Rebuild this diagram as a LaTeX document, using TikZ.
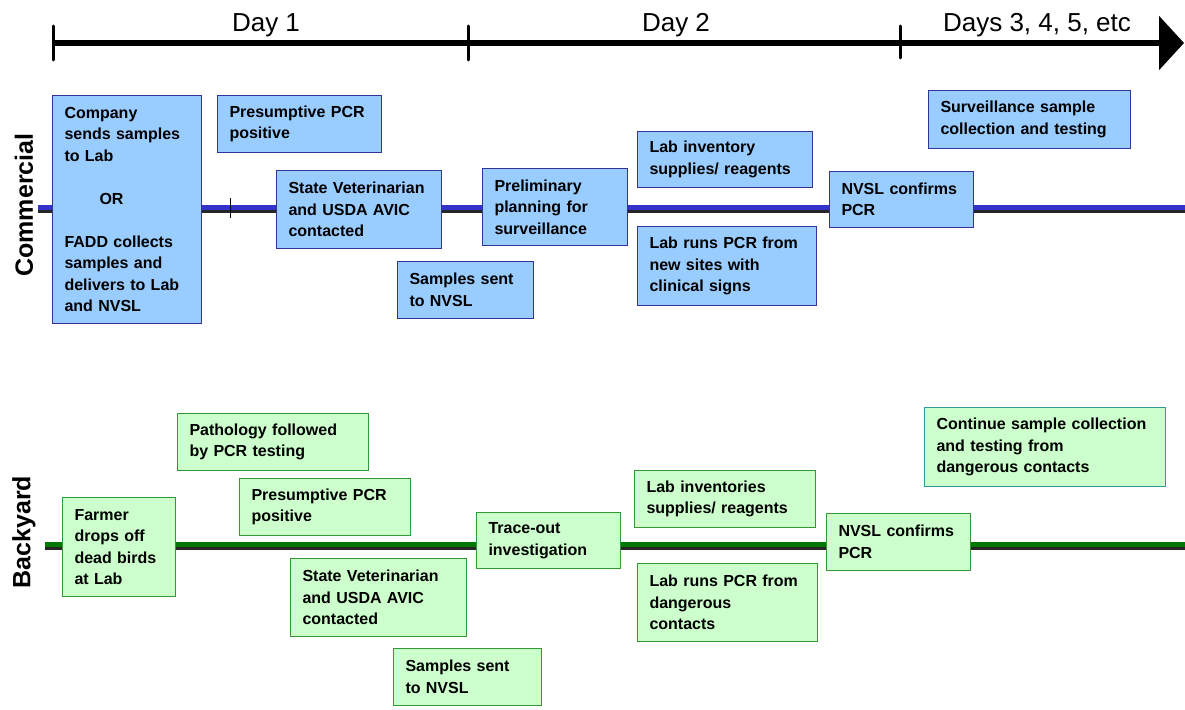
\documentclass[tikz,border=0pt]{standalone}
\usepackage{fontspec}
\setmainfont{Liberation Sans}
\usepackage{xcolor}
\usetikzlibrary{arrows.meta}

\definecolor{comfill}{HTML}{99CCFF}
\definecolor{comdraw}{HTML}{333399}
\definecolor{comlane}{HTML}{3333CC}
\definecolor{yardfill}{HTML}{CCFFCC}
\definecolor{yarddraw}{HTML}{339933}
\definecolor{yardteal}{HTML}{339999}
\definecolor{yardlane}{HTML}{007700}

\begin{document}
\begin{tikzpicture}[
    x=1pt, y=-1pt,
    box/.style={rectangle, draw, line width=1pt, anchor=north west, align=left,
        inner xsep=12pt, inner ysep=0pt, font=\bfseries\fontsize{16}{21.5}\selectfont},
    combox/.style={box, fill=comfill, draw=comdraw},
    yardbox/.style={box, fill=yardfill, draw=yarddraw},
    daylabel/.style={anchor=base, font=\fontsize{26}{30}\selectfont},
    lanelabel/.style={rotate=90, font=\bfseries\fontsize{25}{30}\selectfont},
    % Line styles
    timeline/.style={line width=6pt, -{Triangle[length=25pt, width=53pt]}},
    daytick/.style={line width=3pt, line cap=round},
    laneshadow/.style={line width=7pt, black!85},
    lane/.style={line width=5.5pt, #1},
    ]

    \useasboundingbox (0,0) rectangle (1185,709);

    % Time axis
    \coordinate (t0) at (53,43);
    \coordinate (t1) at (468,43);
    \coordinate (t2) at (900,43);
    \coordinate (tend) at (1184,43);
    \draw[timeline] (t0) -- (tend);
    \draw[daytick] ([yshift=17pt]t0) -- ([yshift=-17pt]t0);
    \draw[daytick] ([yshift=17pt]t1) -- ([yshift=-17pt]t1);
    \draw[daytick] ([yshift=17pt]t2) -- ([yshift=-15pt]t2);
    \node[daylabel] (day1) at (266,32) {Day 1};
    \node[daylabel] (day2) at (676,32) {Day 2};
    \node[daylabel] (day3) at (1037,32) {Days 3, 4, 5, etc};

    % Commercial lane
    \coordinate (cstart) at (38,208);
    \coordinate (cend) at (1185,208);
    \draw[laneshadow] ([yshift=-1pt]cstart) -- ([yshift=-1pt]cend);
    \draw[lane=comlane] ([yshift=0.3pt]cstart) -- ([yshift=0.3pt]cend);
    \coordinate (cmark) at (230,208);
    \draw[thin] ([yshift=10pt]cmark) -- ([yshift=-10pt]cmark);
    \node[lanelabel] (commercial) at (24,205) {Commercial};

    \node[combox, text width=125pt, minimum height=228pt] (c1) at (52,95)
        {Company\\sends samples\\to Lab\\[21.5pt]\hspace*{35pt}OR\\[21.5pt]FADD collects\\samples and\\delivers to Lab\\and NVSL};
    \node[combox, text width=140pt, minimum height=57pt] (c2) at (217,95) {Presumptive PCR\\positive};
    \node[combox, text width=141pt, minimum height=78pt] (c3) at (276,170) {State Veterinarian\\and USDA AVIC\\contacted};
    \node[combox, text width=112pt, minimum height=57pt] (c4) at (397,261) {Samples sent\\to NVSL};
    \node[combox, text width=121pt, minimum height=77pt] (c5) at (482,168) {Preliminary\\planning for\\surveillance};
    \node[combox, text width=151pt, minimum height=56pt] (c6) at (637,131) {Lab inventory\\supplies/ reagents};
    \node[combox, text width=155pt, minimum height=79pt] (c7) at (637,226) {Lab runs PCR from\\new sites with\\clinical signs};
    \node[combox, text width=120pt, minimum height=56pt] (c8) at (829,171) {NVSL confirms\\PCR};
    \node[combox, text width=178pt, minimum height=58pt] (c9) at (928,90) {Surveillance sample\\collection and testing};

    % Backyard lane
    \coordinate (bstart) at (45,545);
    \coordinate (bend) at (1185,545);
    \draw[laneshadow] ([yshift=-1pt]bstart) -- ([yshift=-1pt]bend);
    \draw[lane=yardlane] ([yshift=0.3pt]bstart) -- ([yshift=0.3pt]bend);
    \node[lanelabel] (backyard) at (24,532) {Backyard};

    \node[yardbox, text width=89pt, minimum height=99pt] (b1) at (62,497) {Farmer\\drops off\\dead birds\\at Lab};
    \node[yardbox, text width=167pt, minimum height=57pt] (b2) at (177,413) {Pathology followed\\by PCR testing};
    \node[yardbox, text width=147pt, minimum height=57pt] (b3) at (239,478) {Presumptive PCR\\positive};
    \node[yardbox, text width=152pt, minimum height=78pt] (b4) at (290,558) {State Veterinarian\\and USDA AVIC\\contacted};
    \node[yardbox, text width=124pt, minimum height=57pt] (b5) at (393,648) {Samples sent\\to NVSL};
    \node[yardbox, text width=120pt, minimum height=56pt] (b6) at (476,512) {Trace-out\\investigation};
    \node[yardbox, text width=157pt, minimum height=57pt] (b7) at (634,470) {Lab inventories\\supplies/ reagents};
    \node[yardbox, text width=156pt, minimum height=78pt] (b8) at (637,563) {Lab runs PCR from\\dangerous\\contacts};
    \node[yardbox, text width=120pt, minimum height=57pt] (b9) at (826,513) {NVSL confirms\\PCR};
    \node[yardbox, draw=yardteal, text width=217pt, minimum height=79pt] (b10) at (924,407)
        {Continue sample collection\\and testing from\\dangerous contacts};

\end{tikzpicture}
\end{document}
